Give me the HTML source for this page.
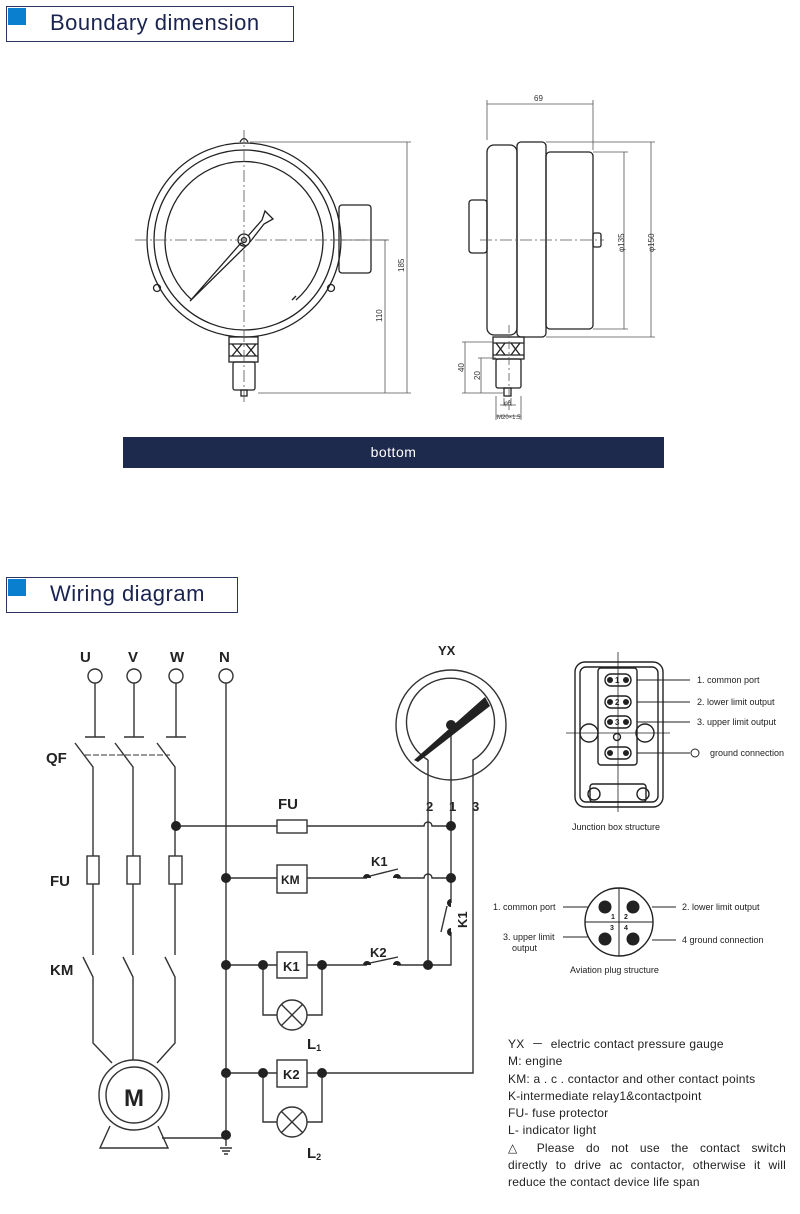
<!DOCTYPE html>
<html><head><meta charset="utf-8"><style>
html,body{margin:0;padding:0;background:#fff;}
body{width:800px;height:1214px;position:relative;overflow:hidden;font-family:"Liberation Sans",sans-serif;}
.hd{position:absolute;border:1px solid #2a3560;background:#fff;height:34px;}
.hd .sq{position:absolute;left:1px;top:1px;width:18px;height:17px;background:#0a7fd0;}
.hd .t{position:absolute;left:43px;top:3px;font-size:22px;color:#1a2350;letter-spacing:0.5px;}
.bar{position:absolute;left:123px;top:437px;width:541px;height:31px;background:#1d2a4e;color:#fff;font-size:14px;text-align:center;line-height:31px;letter-spacing:0.5px;}
.leg{position:absolute;left:508px;top:1036px;width:278px;font-size:12px;line-height:17.3px;color:#222;letter-spacing:0.2px;}
.leg .j{text-align:justify;text-align-last:justify;white-space:nowrap;}
</style></head><body>
<div class="hd" style="left:6px;top:6px;width:286px;"><div class="sq"></div><div class="t">Boundary dimension</div></div>
<div class="hd" style="left:6px;top:577px;width:230px;"><div class="sq"></div><div class="t">Wiring diagram</div></div>
<div class="bar">bottom</div>

<svg width="800" height="1214" style="position:absolute;left:0;top:0" xmlns="http://www.w3.org/2000/svg">
<g fill="none" stroke="#222" stroke-width="1.3">
<circle cx="244" cy="240" r="97"/>
<circle cx="244" cy="240" r="90"/>
<path d="M192 300 A79 79 0 1 1 296 300"/>
<path d="M292 300 L296 296"/>
<rect x="339" y="205" width="32" height="68" rx="3"/>
<path d="M240 142 Q244 135 248 142"/>
<circle cx="157" cy="288" r="3.5"/><circle cx="331" cy="288" r="3.5"/>
<path d="M190 301 L241 243 L246 246 Z"/>
<path d="M248 236 L262 220 L265 211 L273 219 L264 224 L250 242"/>
<circle cx="244" cy="240" r="6"/><circle cx="244" cy="240" r="2.5"/>
<rect x="229" y="337" width="29" height="25"/>
<path d="M229 344 H258 M229 356 H258 M232 344 L242 356 M242 344 L232 356 M246 344 L256 356 M256 344 L246 356"/>
<rect x="233" y="362" width="22" height="28" rx="2"/>
<rect x="241" y="390" width="6" height="6"/>
</g>
<g fill="none" stroke="#555" stroke-width="0.8">
<path d="M135 240 H390" stroke-dasharray="12 3 2 3"/>
<path d="M244 130 V402" stroke-dasharray="12 3 2 3"/>
<path d="M250 142 H411 M258 393 H411 M330 240 H389 M407 142 V393 M385 240 V393"/>
</g>
<g font-size="8" fill="#333">
<text transform="translate(404 272) rotate(-90)">185</text>
<text transform="translate(382 322) rotate(-90)">110</text>
</g>
<g fill="none" stroke="#222" stroke-width="1.3">
<rect x="487" y="145" width="30" height="190" rx="7"/>
<rect x="517" y="142" width="29" height="195" rx="4"/>
<rect x="546" y="152" width="47" height="177" rx="4"/>
<rect x="469" y="200" width="18" height="53" rx="3"/>
<rect x="593" y="233" width="8" height="14" rx="2"/>
<rect x="493" y="337" width="31" height="22"/>
<path d="M493 343 H524 M493 355 H524 M496 343 L505 355 M505 343 L496 355 M511 343 L520 355 M520 343 L511 355"/>
<rect x="496" y="359" width="25" height="29" rx="2"/>
<rect x="504" y="388" width="7" height="8"/>
</g>
<g fill="none" stroke="#555" stroke-width="0.8">
<path d="M480 240 H604" stroke-dasharray="12 3 2 3"/>
<path d="M509 325 V410" stroke-dasharray="8 3 2 3"/>
<path d="M487 100 V140 M593 100 V150 M487 104 H593"/>
<path d="M593 152 H628 M593 329 H628 M624 152 V329 M546 142 H655 M546 337 H655 M651 142 V337"/>
<path d="M462 342 H493 M478 358 H496 M462 393 H504 M465 342 V393 M481 358 V393"/>
<path d="M496 396 V420 M521 396 V420 M504 398 V406 M511 398 V406 M500 405 H516 M496 416 H521"/>
</g>
<g font-size="8" fill="#333">
<text x="534" y="101">69</text>
<text transform="translate(624 252) rotate(-90)">φ135</text>
<text transform="translate(654 252) rotate(-90)">φ150</text>
<text transform="translate(464 372) rotate(-90)">40</text>
<text transform="translate(480 380) rotate(-90)">20</text>
<text x="504" y="405" font-size="6">φ6</text>
<text x="497" y="419" font-size="6">M20×1.5</text>
</g>

<g font-family="Liberation Sans" font-weight="bold" font-size="15" fill="#222">
<text x="80" y="662">U</text><text x="128" y="662">V</text><text x="170" y="662">W</text><text x="219" y="662">N</text>
<text x="46" y="763">QF</text><text x="50" y="886">FU</text><text x="50" y="975">KM</text>
<text x="278" y="809">FU</text><text x="438" y="655" font-size="13">YX</text>
<text x="426" y="811" font-size="13">2</text><text x="449" y="811" font-size="13">1</text><text x="472" y="811" font-size="13">3</text>
<text x="371" y="866" font-size="13">K1</text><text x="370" y="957" font-size="13">K2</text>
<text transform="translate(467 928) rotate(-90)" font-size="13">K1</text>
<text x="281" y="884" font-size="12">KM</text><text x="283" y="971" font-size="13">K1</text><text x="283" y="1079" font-size="13">K2</text>
<text x="307" y="1049" font-size="15">L<tspan font-size="9" dy="2">1</tspan></text>
<text x="307" y="1158" font-size="15">L<tspan font-size="9" dy="2">2</tspan></text>
<text x="124" y="1106" font-size="24">M</text>
</g>
<g fill="none" stroke="#333" stroke-width="1.4">
<circle cx="95" cy="676" r="7"/><circle cx="134" cy="676" r="7"/><circle cx="176" cy="676" r="7"/><circle cx="226" cy="676" r="7"/>
<path d="M95 683 V737 M85 737 H105 M134 683 V737 M124 737 H144 M176 683 V737 M166 737 H186"/>
<path d="M75 743 L93 767 V955 M115 743 L133 767 V955 M157 743 L175 767 V955"/>
<path d="M85 755 H170" stroke-dasharray="6 2" stroke-width="1"/>
<rect x="87" y="856" width="12" height="28" fill="#fff"/><rect x="127" y="856" width="13" height="28" fill="#fff"/><rect x="169" y="856" width="13" height="28" fill="#fff"/>
<path d="M83 957 L93 977 V1043 L112 1063 M123 957 L133 977 V1060 M165 957 L175 977 V1043 L157 1063"/>
<circle cx="134" cy="1095" r="35"/><circle cx="134" cy="1095" r="28"/>
<path d="M110 1126 L100 1148 H168 L158 1126 M162 1138 H226"/>
<path d="M226 683 V1146 M220 1148 H232 M222 1151 H230 M224 1154 H228"/>
<path d="M176 826 H277 M307 826 H424 A4 4 0 0 1 432 826 H451"/>
<rect x="277" y="820" width="30" height="13"/>
<path d="M226 878 H277 M307 878 H367 M370 876 L398 869 M397 878 H424 A4 4 0 0 1 432 878 H451"/>
<rect x="277" y="865" width="30" height="28"/>
<circle cx="451" cy="725" r="55"/>
<path d="M428 760 V965 M428 760 A44 44 0 1 1 473 760 V1073 H322"/>
<path d="M451 725 V903 M447 906 L441 932 M451 932 V965 H428"/>
<path d="M226 965 H277 M307 965 H367 M370 963 L398 957 M397 965 H428"/>
<rect x="277" y="952" width="30" height="26"/>
<path d="M263 965 V1015 H277 M307 1015 H322 V965"/>
<circle cx="292" cy="1015" r="15"/><path d="M281 1004 L303 1026 M303 1004 L281 1026"/>
<path d="M226 1073 H277 M307 1073 H322"/>
<rect x="277" y="1060" width="30" height="27"/>
<path d="M263 1073 V1122 H277 M307 1122 H322 V1073"/>
<circle cx="292" cy="1122" r="15"/><path d="M281 1111 L303 1133 M303 1111 L281 1133"/>
</g>
<g fill="#222">
<path d="M414 760 L485 697 L490 706 L418 762 Z"/>
<circle cx="451" cy="725" r="5"/>
<circle cx="176" cy="826" r="5"/><circle cx="451" cy="826" r="5"/>
<circle cx="226" cy="878" r="5"/><circle cx="451" cy="878" r="5"/>
<circle cx="226" cy="965" r="5"/><circle cx="263" cy="965" r="5"/><circle cx="322" cy="965" r="5"/><circle cx="428" cy="965" r="5"/>
<circle cx="226" cy="1073" r="5"/><circle cx="263" cy="1073" r="5"/><circle cx="322" cy="1073" r="5"/>
<circle cx="226" cy="1135" r="5"/>
<path d="M363 878 a4 4 0 0 1 8 0 Z M393 878 a4 4 0 0 1 8 0 Z M363 965 a4 4 0 0 1 8 0 Z M393 965 a4 4 0 0 1 8 0 Z"/>
<path d="M451 899 a4 4 0 0 0 0 8 Z M451 928 a4 4 0 0 0 0 8 Z"/>
</g>

<g fill="none" stroke="#222" stroke-width="1.4">
<rect x="575" y="662" width="88" height="145" rx="10"/>
<rect x="580" y="667" width="78" height="135" rx="6"/>
<rect x="598" y="668" width="39" height="97" rx="3"/>
<path d="M618 652 V812 M566 733 H670" stroke-width="0.8"/>
<rect x="605" y="674" width="26" height="12" rx="6"/><rect x="605" y="696" width="26" height="12" rx="6"/>
<rect x="605" y="716" width="26" height="12" rx="6"/><rect x="605" y="747" width="26" height="12" rx="6"/>
<circle cx="617" cy="737" r="3.5"/>
<circle cx="589" cy="733" r="9"/><circle cx="645" cy="733" r="9"/>
<rect x="590" y="784" width="56" height="18" rx="3"/>
<circle cx="594" cy="794" r="6"/><circle cx="643" cy="794" r="6"/>
<path d="M637 680 H690 M637 702 H690 M637 722 H690 M637 753 H690" stroke-width="1"/>
<circle cx="695" cy="753" r="4" stroke-width="1"/>
<circle cx="619" cy="922" r="34"/>
<path d="M619 888 V956 M585 922 H653" stroke-width="1"/>
<path d="M563 907 H588 M563 937 H588 M652 907 H676 M652 940 H676" stroke-width="1"/>
</g>
<g fill="#222">
<circle cx="610" cy="680" r="3"/><circle cx="610" cy="702" r="3"/><circle cx="610" cy="722" r="3"/><circle cx="610" cy="753" r="3"/>
<circle cx="626" cy="680" r="3"/><circle cx="626" cy="702" r="3"/><circle cx="626" cy="722" r="3"/><circle cx="626" cy="753" r="3"/>
<circle cx="605" cy="907" r="6.5"/><circle cx="633" cy="907" r="6.5"/><circle cx="605" cy="939" r="6.5"/><circle cx="633" cy="939" r="6.5"/>
</g>
<g font-size="9" fill="#222" font-family="Liberation Sans">
<text x="615" y="683" font-size="8" font-weight="bold">1</text><text x="615" y="705" font-size="8" font-weight="bold">2</text><text x="615" y="725" font-size="8" font-weight="bold">3</text>
<text x="697" y="683">1. common port</text>
<text x="697" y="705">2. lower  limit output</text>
<text x="697" y="725">3. upper limit output</text>
<text x="710" y="756">ground connection</text>
<text x="572" y="830">Junction box structure</text>
<text x="611" y="919" font-size="7" font-weight="bold">1</text><text x="624" y="919" font-size="7" font-weight="bold">2</text>
<text x="610" y="930" font-size="7" font-weight="bold">3</text><text x="624" y="930" font-size="7" font-weight="bold">4</text>
<text x="493" y="910">1. common port</text>
<text x="682" y="910">2. lower  limit output</text>
<text x="503" y="940">3. upper limit</text>
<text x="512" y="951">output</text>
<text x="682" y="943">4 ground connection</text>
<text x="570" y="973">Aviation plug structure</text>
</g>
</svg>

<div class="leg">
<div>YX &nbsp;－ &nbsp;electric contact pressure gauge</div>
<div>M: engine</div>
<div>KM: a . c . contactor and other contact points</div>
<div>K-intermediate relay1&amp;contactpoint</div>
<div>FU- fuse protector</div>
<div>L- indicator light</div>
<div class="j">△ Please do not use the contact switch</div>
<div class="j">directly to drive ac contactor, otherwise it will</div>
<div>reduce the contact device life span</div>
</div>
</body></html>
